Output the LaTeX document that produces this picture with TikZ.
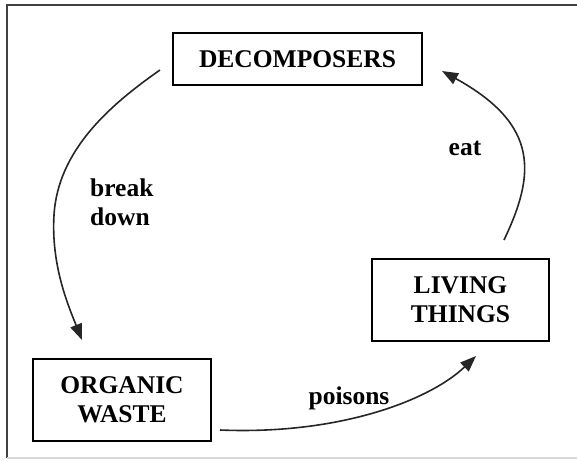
\documentclass[tikz,border=0pt]{standalone}
\usepackage{fontspec}
\setmainfont{Liberation Serif}
\usetikzlibrary{arrows.meta}
\begin{document}
\begin{tikzpicture}[x=1pt,y=-1pt,
  box/.style={draw=black,line width=1.6pt,inner sep=0pt,align=center,
    font=\fontsize{25.5}{29}\selectfont\bfseries},
  lbl/.style={inner sep=0pt,align=left,font=\fontsize{25.5}{29}\selectfont\bfseries},
  conn/.style={line width=1.6pt,draw=black!85,-{Triangle[length=16pt,width=12pt]}}]
\useasboundingbox (0,0) rectangle (577,460);
\fill[white] (0,0) rectangle (577,460);
% frame
\draw[line width=1.5pt,draw=black!75] (7,458) -- (7,5) -- (580,5);
\draw[line width=1.3pt,draw=black!15] (7,458) -- (580,458);
% boxes
\node[box,minimum width=249pt,minimum height=52pt] (dec) at (297.5,59) {DECOMPOSERS};
\node[box,minimum width=178pt,minimum height=82pt] (org) at (122,400) {ORGANIC\\WASTE};
\node[box,minimum width=177pt,minimum height=82pt] (liv) at (460.5,300) {LIVING\\THINGS};
% labels
\node[lbl,anchor=west] (bd) at (90,202.5) {break\\down};
\node[lbl] (eat) at (465,148) {eat};
\node[lbl] (poi) at (349,398) {poisons};
% connector ends
\coordinate (d1) at (160,70);
\coordinate (o1) at (82,340);
\coordinate (o2) at (220,430);
\coordinate (l1) at (476,356);
\coordinate (l2) at (504,240);
\coordinate (d2) at (442,71);
\draw[conn] (d1) .. controls (110,105) and (58,150) .. (54,215) .. controls (51,265) and (68,305) .. (o1);
\draw[conn] (o2) .. controls (340,435) and (430,400) .. (l1);
\draw[conn] (l2) .. controls (535,175) and (540,125) .. (d2);
\end{tikzpicture}
\end{document}
